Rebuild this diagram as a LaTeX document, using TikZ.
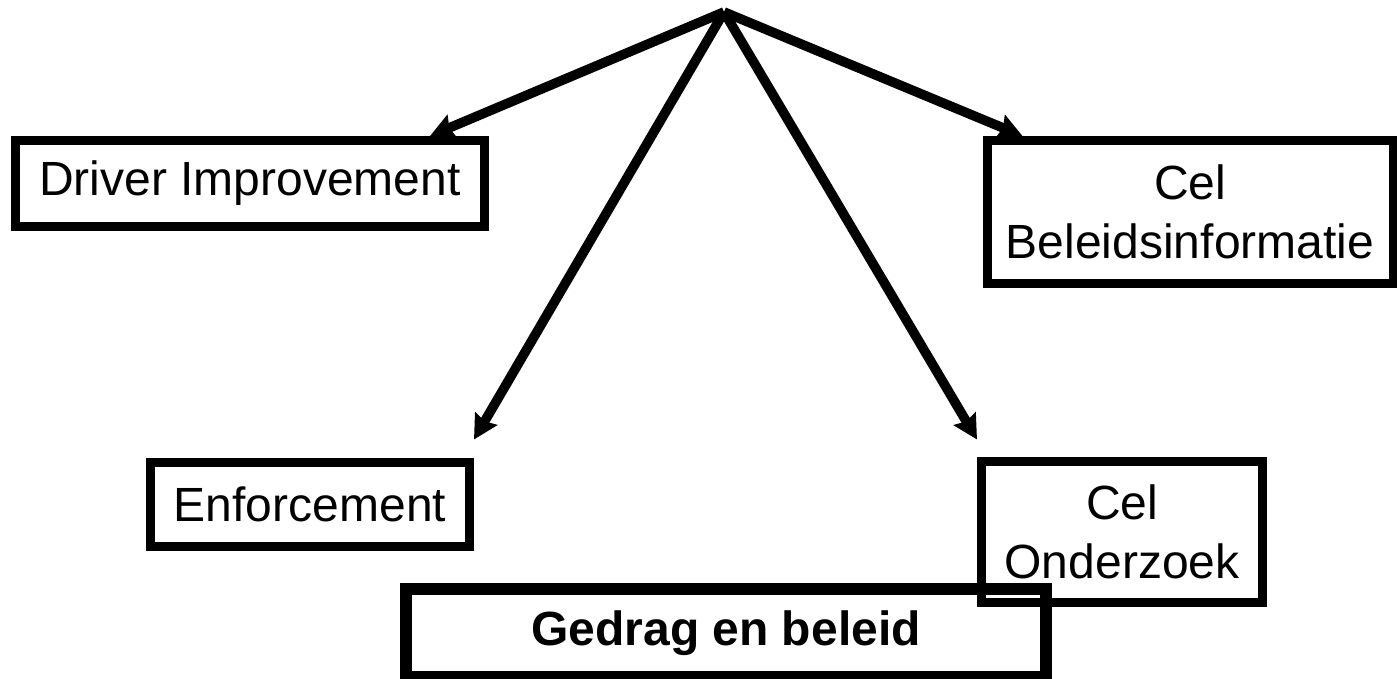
\documentclass[tikz,border=0pt]{standalone}
\usepackage{fontspec}
\setmainfont{Liberation Sans}
\usetikzlibrary{positioning}
\usetikzlibrary{arrows.meta}
\tikzset{
  unit/.style={rectangle,draw=black,line width=4.5pt,inner sep=0pt,
               align=center,font=\fontsize{24}{29.5}\selectfont},
  dept/.style={unit,line width=6pt,
               font=\fontsize{24}{29.5}\selectfont\bfseries},
  branch/.style={-{Stealth[length=12pt,width=12.5pt,inset=1.5pt]},
                 line width=4.8pt},
}

\begin{document}
\begin{tikzpicture}[x=0.5pt,y=-0.5pt]
  \useasboundingbox (0,0) rectangle (1397,679);
  \coordinate (head) at (724,12);

  \node[unit,minimum width=234.5pt,minimum height=43pt] (drv) at (250,183.5)
      {Driver Improvement};
  \node[unit,minimum width=203pt,minimum height=71.5pt] (info) at (1190,212)
      {Cel\\Beleidsinformatie};
  \node[unit,minimum width=159.5pt,minimum height=42pt] (enf) at (310,504)
      {Enforcement};
  \node[unit,minimum width=140.5pt,minimum height=70.5pt] (research) at (1122,532)
      {Cel\\Onderzoek};
  \node[dept,minimum width=320pt,minimum height=44pt] (dept) at (726,633)
      {Gedrag en beleid};

  \draw[branch] (head) -- ([xshift=-29.5pt]drv.north east);
  \draw[branch] (head) -- ([xshift=20pt]info.north west);
  \draw[branch] (head) -- ([yshift=9pt]enf.north east);
  \draw[branch] (head) -- ([yshift=8.75pt]research.north west);
\end{tikzpicture}
\end{document}
